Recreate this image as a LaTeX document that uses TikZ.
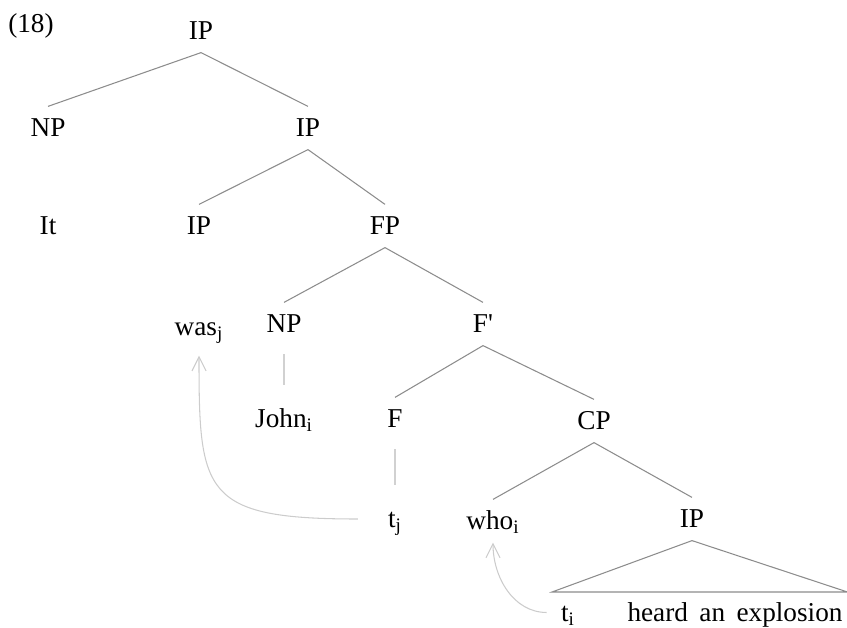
\documentclass[tikz,border=0pt]{standalone}
\usepackage{fontspec}
\setmainfont{Liberation Serif}
\usetikzlibrary{positioning, arrows.meta}
\tikzset{
        >={Straight Barb[length=8pt, width=8pt]}, % open arrow heads for the movement lines
        node distance=1.96cm, % distance between two levels of the tree
        on grid, % distances are measured between centres
        cat/.style={inner sep=7pt, text height=10.2pt, text depth=0pt, font=\fontsize{15.5}{18}\selectfont}, % sets properties for each label of the tree
        branch/.style={draw=black!45, line width=0.6pt}, % lines of the tree
        faint/.style={draw=black!18, line width=0.6pt, shorten <=5pt, shorten >=7pt}, % faded lines of the tree
        move/.style={->, draw=black!20, line width=0.6pt}, % movement arrows
    }
\newcommand{\idx}[1]{\textsubscript{#1}}

\begin{document}
\begin{tikzpicture}
    \useasboundingbox (0,0) rectangle (16.94,-12.56);
    \node[cat] (lbl) at (0.62,-0.48) {(18)};
    \node[cat] (ip0) at (4.02,-0.62) {IP};
    \node[cat, below left=1.94cm and 3.06cm of ip0] (np1) {NP};
    \node[cat, below right=1.94cm and 2.14cm of ip0] (ip1) {IP};
    \node[cat, below=of np1] (it) {It};
    \node[cat, below left=1.96cm and 2.18cm of ip1] (ip2) {IP};
    \node[cat, below right=1.96cm and 1.54cm of ip1] (fp) {FP};
    \node[cat, below=2.02cm of ip2] (was) {was\idx{j}};
    \node[cat, below left=1.96cm and 2.02cm of fp] (np2) {NP};
    \node[cat, below right=1.96cm and 1.96cm of fp] (fbar) {F\textquotesingle};
    \node[cat, below=1.9cm of np2] (john) {John\idx{i}};
    \node[cat, below left=1.9cm and 1.76cm of fbar] (f) {F};
    \node[cat, below right=1.94cm and 2.22cm of fbar] (cp) {CP};
    \node[cat, below=2cm of f] (tj) {t\idx{j}};
    \node[cat, below left=2cm and 2.02cm of cp] (who) {who\idx{i}};
    \node[cat, below right=1.96cm and 1.96cm of cp] (ip3) {IP};
    \node[cat, below left=1.87cm and 2.48cm of ip3] (ti) {t\idx{i}};
    \node[cat, below right=1.87cm and 0.86cm of ip3] (heard) {heard\hspace{.42em}an\hspace{.42em}explosion};
    \coordinate[above left=0.41cm and 0.32cm of ti] (base west);
    \coordinate[above right=0.41cm and 2.25cm of heard] (base east);
    \draw[branch]
      (ip0.south) edge (np1.north)
      (ip0.south) edge (ip1.north)
      (ip1.south) edge (ip2.north)
      (ip1.south) edge (fp.north)
      (fp.south) edge (np2.north)
      (fp.south) edge (fbar.north)
      (fbar.south) edge (f.north)
      (fbar.south) edge (cp.north)
      (cp.south) edge (who.north)
      (cp.south) edge (ip3.north);
    \draw[branch] (ip3.south) -- (base west) -- (base east) -- cycle;
    \draw[faint] (np2.south) -- (john.north);
    \draw[faint] (f.south) -- (tj.north);
    \draw[move, shorten <=10pt, shorten >=4pt] (tj.west) to[out=180, in=-90, out looseness=1.8, in looseness=1.5] (was.south);
    \draw[move, shorten <=1pt] (ti.west) to[out=180, in=-90] (who.south);
  \end{tikzpicture}
\end{document}
